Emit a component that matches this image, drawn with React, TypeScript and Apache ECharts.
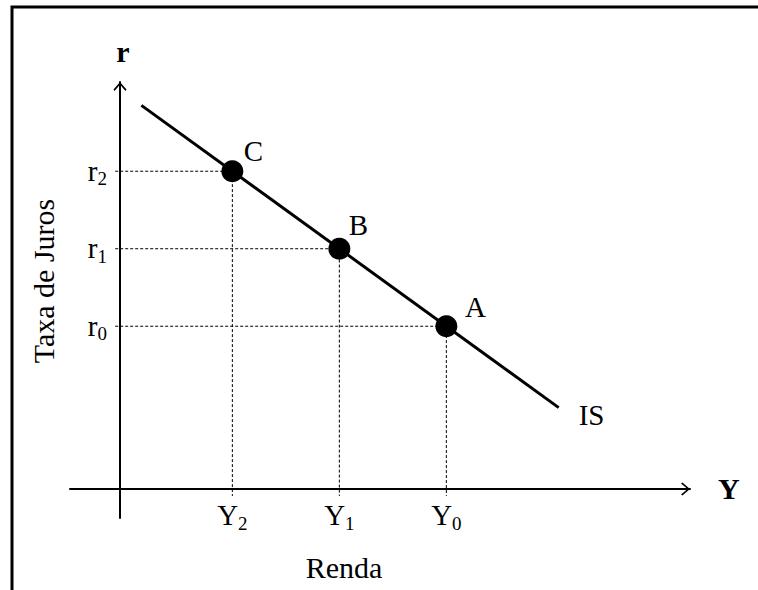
import React, { useEffect, useRef } from 'react';
import * as echarts from 'echarts';

// ---- data ----
const pointNames = ['C', 'B', 'A'];
const incomeValues = [2.1, 4.1, 6.1]; // Y2, Y1, Y0
const rateValues = [4.1, 3.1, 2.1]; // r2, r1, r0
const incomeTickLabels = ['{m|Y}{s|2}', '{m|Y}{s|1}', '{m|Y}{s|0}'];
const rateTickLabels = ['{m|r}{s|2}', '{m|r}{s|1}', '{m|r}{s|0}'];
const isCurveX = [0.4, 8.2];
const isCurveY = [4.95, 1.05];
const guideExtension = -0.09;
const curveName = 'IS';
const xAxisTitle = 'Renda';
const yAxisTitle = 'Taxa de Juros';

const FONT = '"Liberation Serif", "Times New Roman", serif';
const FS = 29;
const CHEVRON = 'path://M6.5,0 L13,7.6 L11.9,9 L6.5,2.4 L1.1,9 L0,7.6 Z';
const labelOffsets: number[][] = [[21, -20], [19, -24], [29, -19]];

const tickRich = {
  m: { fontSize: FS, lineHeight: 30, fontFamily: FONT, color: '#000', verticalAlign: 'top' },
  s: { fontSize: 19, lineHeight: 19, fontFamily: FONT, color: '#000', padding: [15, 0, 0, 0] },
};

export default function App() {
  const ref = useRef<HTMLDivElement>(null);
  useEffect(() => {
    if (!ref.current) return;
    const chart = echarts.init(ref.current, undefined, { renderer: 'svg' });
    const guideSeries = incomeValues.map((x, i) => ({
      type: 'line',
      data: [
        [guideExtension, rateValues[i]],
        [x, rateValues[i]],
        [x, guideExtension],
      ],
      symbol: 'none',
      lineStyle: { color: '#000', width: 1, type: [3, 2] },
      z: 2,
      silent: true,
    }));
    const axisCommon = {
      type: 'value',
      splitLine: { show: false },
      axisTick: { show: false },
      axisLabel: { show: false },
      axisLine: {
        show: true,
        onZero: true,
        lineStyle: { color: '#000', width: 2 },
        symbol: ['none', CHEVRON],
        symbolSize: [13, 9],
        symbolOffset: [0, -4.5],
      },
    };
    const option: any = {
      animation: false,
      backgroundColor: '#fff',
      grid: { left: 70, right: 68, top: 82, bottom: 72 },
      xAxis: {
        ...axisCommon,
        min: -0.9346,
        max: 10.654,
        name: 'Y',
        nameLocation: 'end',
        nameGap: 28,
        nameTextStyle: { color: '#000', fontFamily: FONT, fontSize: 30, fontWeight: 'bold', verticalAlign: 'middle' },
      },
      yAxis: {
        ...axisCommon,
        min: -0.3742,
        max: 5.2516,
        name: 'r',
        nameLocation: 'end',
        nameGap: 16,
        nameTextStyle: { color: '#000', fontFamily: FONT, fontSize: 30, fontWeight: 'bold', padding: [0, 0, 0, 6] },
      },
      series: [
        ...guideSeries,
        {
          type: 'line',
          data: isCurveX.map((x, i) => [x, isCurveY[i]]),
          symbol: 'none',
          lineStyle: { color: '#000', width: 3 },
          z: 3,
          endLabel: {
            show: true,
            formatter: curveName,
            offset: [12, 7],
            color: '#000',
            fontFamily: FONT,
            fontSize: FS,
          },
        },
        {
          type: 'scatter',
          data: incomeValues.map((x, i) => ({
            value: [x, rateValues[i]],
            name: pointNames[i],
            label: { offset: labelOffsets[i] },
          })),
          symbol: 'circle',
          symbolSize: 22,
          itemStyle: { color: '#000', opacity: 1 },
          z: 4,
          label: {
            show: true,
            position: 'inside',
            formatter: (p: any) => p.name,
            color: '#000',
            fontFamily: FONT,
            fontSize: FS,
          },
        },
        // tick labels on the income axis
        {
          type: 'scatter',
          silent: true,
          symbol: 'circle',
          symbolSize: 2,
          itemStyle: { color: 'rgba(0,0,0,0)', opacity: 1 },
          data: incomeValues.map((x, i) => ({ value: [x, 0], name: incomeTickLabels[i] })),
          label: {
            show: true,
            position: 'bottom',
            distance: 11,
            color: '#000',
            formatter: (p: any) => p.name,
            rich: tickRich,
          },
          z: 5,
        },
        // tick labels on the rate axis
        {
          type: 'scatter',
          silent: true,
          symbol: 'circle',
          symbolSize: 2,
          itemStyle: { color: 'rgba(0,0,0,0)', opacity: 1 },
          data: rateValues.map((y, i) => ({ value: [0, y], name: rateTickLabels[i] })),
          label: {
            show: true,
            position: 'left',
            distance: 12,
            color: '#000',
            formatter: (p: any) => p.name,
            rich: tickRich,
          },
          z: 5,
        },
      ],
      graphic: [
        {
          type: 'rect',
          shape: { x: 12, y: 7, width: 800, height: 700 },
          style: { fill: 'none', stroke: '#000', lineWidth: 3 },
          silent: true,
          z: 100,
        },
        {
          type: 'text',
          x: 344,
          y: 567,
          style: { text: xAxisTitle, fontFamily: FONT, fontSize: 30, fill: '#000', align: 'center', verticalAlign: 'middle' },
          silent: true,
        },
        {
          type: 'text',
          x: 43,
          y: 281,
          rotation: Math.PI / 2,
          style: { text: yAxisTitle, fontFamily: FONT, fontSize: 30, fill: '#000', align: 'center', verticalAlign: 'middle' },
          silent: true,
        },
      ],
    };
    chart.setOption(option);
    return () => chart.dispose();
  }, []);
  return (
    <div
      ref={ref}
      style={{ position: 'absolute', left: 0, top: 0, width: 758, height: 590 }}
    />
  );
}
